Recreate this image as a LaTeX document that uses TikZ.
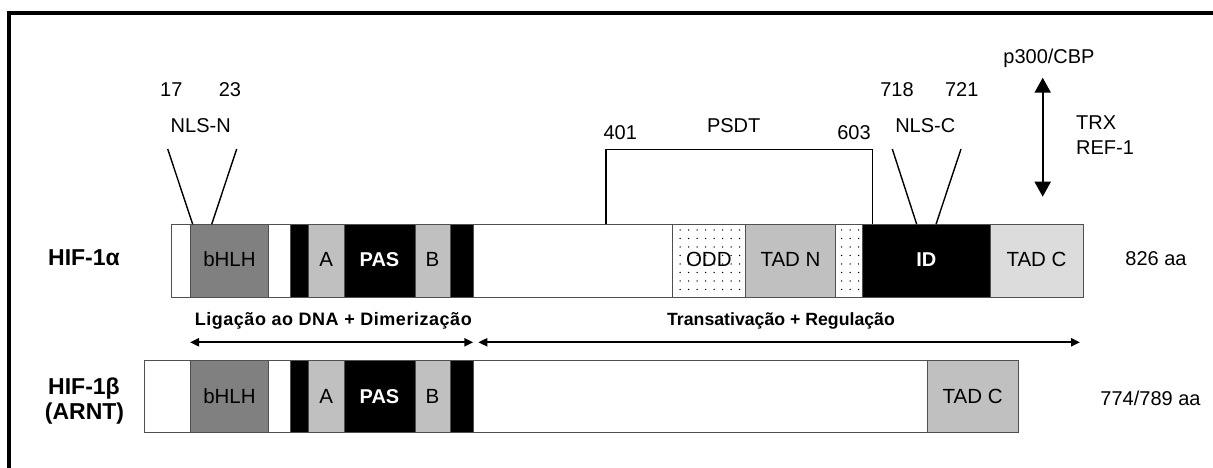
\documentclass[tikz,border=0pt]{standalone}
\usepackage{fontspec}
\setmainfont{Liberation Sans}
\usetikzlibrary{arrows.meta,patterns.meta}
\definecolor{dgrey}{HTML}{808080}
\definecolor{lgrey}{HTML}{C0C0C0}
\definecolor{xlgrey}{HTML}{DCDCDC}
\definecolor{edge}{HTML}{505050}
\newcommand{\fsz}[1]{\fontsize{#1}{#1}\selectfont}
\tikzset{
  seg/.style={draw=edge, line width=1pt, inner sep=0pt, outer sep=0pt, anchor=north west},
  segA/.style={seg, minimum height=73pt},
  segB/.style={seg, minimum height=72pt},
  blk/.style={fill=black},
  dotted seg/.style={pattern={Dots[distance=8.5pt, radius=0.75pt]}},
  lbl/.style={inner sep=0pt, anchor=base, font=\fsz{20}},
  inbar/.style={inner sep=0pt, anchor=base, font=\fsz{20.5}},
  inbarw/.style={inbar, text=white, font=\fsz{20}\bfseries},
  protname/.style={inner sep=0pt, anchor=base, font=\fsz{23}\bfseries},
  region/.style={inner sep=0pt, anchor=base, font=\fsz{17.7}\bfseries},
  leader/.style={line width=1.4pt},
  span/.style={line width=2pt, {Triangle[length=9pt,width=8pt]}-{Triangle[length=9pt,width=8pt]}},
  bind/.style={line width=2pt, {Triangle[length=15pt,width=16pt]}-{Triangle[length=15pt,width=16pt]}}
}
\begin{document}
\begin{tikzpicture}[x=1pt,y=-1pt]
\useasboundingbox (0,0) rectangle (1213,468);
% outer frame (top and left edges)
\draw[line width=4pt] (9,468) -- (9,13) -- (1213,13);

% ---------- HIF-1alpha ----------
\def\ya{224.3}
\node[segA, minimum width=19.7pt] (a1) at (171,\ya) {};
\node[segA, minimum width=77.6pt, fill=dgrey] (abhlh) at (190.7,\ya) {};
\node[segA, minimum width=21.7pt] (a2) at (268.3,\ya) {};
\node[segA, minimum width=18.7pt, blk] (a3) at (290,\ya) {};
\node[segA, minimum width=35.3pt, fill=lgrey] (aA) at (308.7,\ya) {};
\node[segA, minimum width=71pt, blk] (apas) at (344,\ya) {};
\node[segA, minimum width=35pt, fill=lgrey] (aB) at (415,\ya) {};
\node[segA, minimum width=23.3pt, blk] (a4) at (450,\ya) {};
\node[segA, minimum width=199pt] (a5) at (473.3,\ya) {};
\node[segA, minimum width=73pt, dotted seg] (aodd) at (672.3,\ya) {};
\node[segA, minimum width=90.4pt, fill=lgrey] (atadn) at (745.3,\ya) {};
\node[segA, minimum width=27pt, dotted seg] (a6) at (835.7,\ya) {};
\node[segA, minimum width=127.3pt, blk] (aid) at (862.7,\ya) {};
\node[segA, minimum width=93pt, fill=xlgrey] (atadc) at (990,\ya) {};

\node[inbar] at (229.5,266.7) {bHLH};
\node[inbar] at (326.3,266.7) {A};
\node[inbarw] at (379.5,266.7) {PAS};
\node[inbar] at (432.5,266.7) {B};
\node[inbar] at (708.8,266.7) {ODD};
\node[inbar] at (790.5,266.7) {TAD N};
\node[inbarw] at (926.3,266.7) {ID};
\node[inbar] at (1036.5,266.7) {TAD C};

% ---------- HIF-1beta ----------
\def\yb{360.7}
\node[segB, minimum width=46.4pt] (b1) at (144.3,\yb) {};
\node[segB, minimum width=77.6pt, fill=dgrey] (bbhlh) at (190.7,\yb) {};
\node[segB, minimum width=21.7pt] (b2) at (268.3,\yb) {};
\node[segB, minimum width=18.7pt, blk] (b3) at (290,\yb) {};
\node[segB, minimum width=35.3pt, fill=lgrey] (bA) at (308.7,\yb) {};
\node[segB, minimum width=71pt, blk] (bpas) at (344,\yb) {};
\node[segB, minimum width=35pt, fill=lgrey] (bB) at (415,\yb) {};
\node[segB, minimum width=23.3pt, blk] (b4) at (450,\yb) {};
\node[segB, minimum width=453.7pt] (b5) at (473.3,\yb) {};
\node[segB, minimum width=91.3pt, fill=lgrey] (btadc) at (927,\yb) {};

\node[inbar] at (229.5,403.3) {bHLH};
\node[inbar] at (326.3,403.3) {A};
\node[inbarw] at (379.5,403.3) {PAS};
\node[inbar] at (432.5,403.3) {B};
\node[inbar] at (972.7,403.3) {TAD C};

% ---------- protein names and lengths ----------
\node[protname] (hifa) at (84,265) {HIF-1α};
\node[protname] (hifb) at (84,394) {HIF-1β};
\node[protname] (arnt) at (84.5,419) {(ARNT)};
\node[lbl] (lena) at (1156,265) {826 aa};
\node[lbl] (lenb) at (1150.5,405) {774/789 aa};

% ---------- N-terminal nuclear localisation signal ----------
\node[lbl] (n17) at (171.3,96.7) {17};
\node[lbl] (n23) at (230,96.7) {23};
\node[lbl] (nlsn) at (200.7,132.7) {NLS-N};
\coordinate (nlsnA) at (167.7,149);
\coordinate (nlsnB) at (236.7,149);
\coordinate (nlsnA') at (192.7,\ya);
\coordinate (nlsnB') at (211.7,\ya);
\draw[leader] (nlsnA) -- (nlsnA');
\draw[leader] (nlsnB) -- (nlsnB');

% ---------- PSDT bracket ----------
\node[lbl] (p401) at (620.3,140) {401};
\node[lbl] (psdt) at (733.7,132.3) {PSDT};
\node[lbl] (p603) at (854,140) {603};
\coordinate (psdtL) at (606,\ya);
\coordinate (psdtR) at (872.3,\ya);
\draw[leader] (psdtL) |- (872.3,149.7) -- (psdtR);

% ---------- C-terminal nuclear localisation signal ----------
\node[lbl] (c718) at (897,96.7) {718};
\node[lbl] (c721) at (961.7,96.7) {721};
\node[lbl] (nlsc) at (925.3,133) {NLS-C};
\coordinate (nlscA) at (892.3,149);
\coordinate (nlscB) at (961,149);
\coordinate (nlscA') at (916.7,\ya);
\coordinate (nlscB') at (936,\ya);
\draw[leader] (nlscA) -- (nlscA');
\draw[leader] (nlscB) -- (nlscB');

% ---------- coactivator binding ----------
\node[lbl] (p300) at (1049,63.3) {p300/CBP};
\node[lbl, anchor=base west] (trx) at (1076,129.3) {TRX};
\node[lbl, anchor=base west] (ref) at (1076,154) {REF-1};
\coordinate (bindT) at (1042.7,77.7);
\coordinate (bindB) at (1042.7,196.7);
\draw[bind] (bindT) -- (bindB);

% ---------- functional regions ----------
\node[region, font=\fsz{18}\bfseries\addfontfeature{LetterSpace=3}] (dimer) at (333.3,325) {Ligação ao DNA + Dimerização};
\node[region] (trans) at (781,325) {Transativação + Regulação};
\coordinate (s1L) at (190,342.3);
\coordinate (s1R) at (473.3,342.3);
\coordinate (s2L) at (478.3,342.3);
\coordinate (s2R) at (1080,342.3);
\draw[span] (s1L) -- (s1R);
\draw[span] (s2L) -- (s2R);
\end{tikzpicture}
\end{document}
